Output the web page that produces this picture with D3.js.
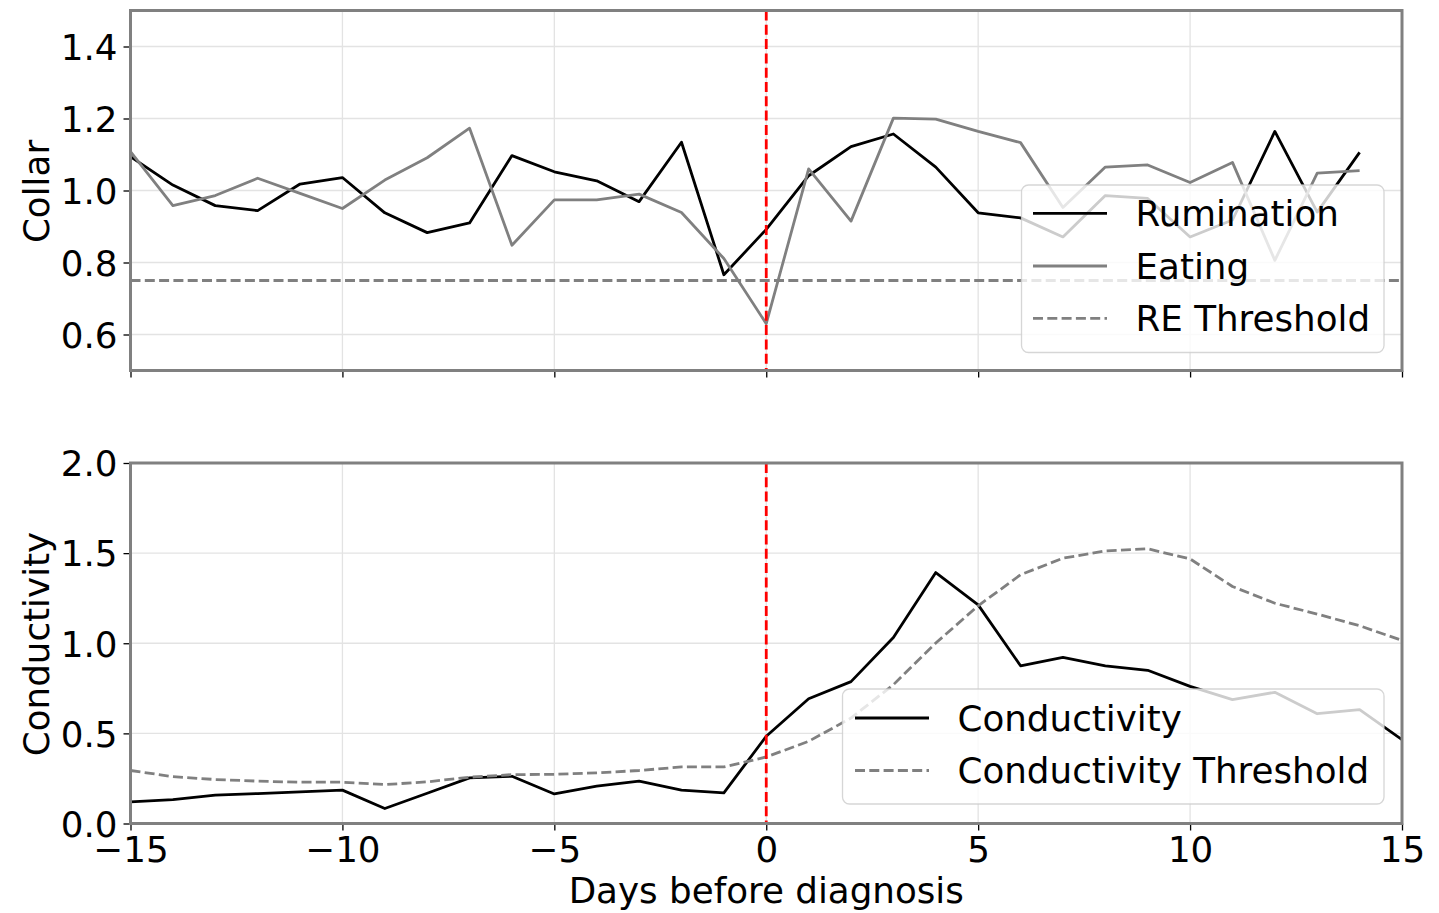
<!DOCTYPE html>
<html>
<head>
<meta charset="utf-8">
<script src="https://cdn.jsdelivr.net/npm/d3@7"></script>
<style>
  html, body { margin: 0; padding: 0; background: #fff; }
  svg { display: block; font-family: "DejaVu Sans", sans-serif; }
</style>
</head>
<body>
<svg id="chart" width="1439" height="913"></svg>
<script>
// Days relative to diagnosis
const collarDays = [-15,-14,-13,-12,-11,-10,-9,-8,-7,-6,-5,-4,-3,-2,-1,0,1,2,3,4,5,6,7,8,9,10,11,12,13,14];
const rumination = [1.094,1.015,0.958,0.944,1.018,1.036,0.938,0.883,0.910,1.097,1.052,1.027,0.969,1.134,0.766,0.892,1.041,1.122,1.157,1.065,0.938,0.924,0.871,0.986,0.978,0.871,0.918,1.164,0.940,1.106];
const eating = [1.108,0.958,0.986,1.034,0.992,0.950,1.029,1.091,1.173,0.848,0.974,0.974,0.990,0.939,0.811,0.630,1.060,0.915,1.201,1.198,1.164,1.133,0.953,1.065,1.071,1.022,1.078,0.806,1.048,1.055];
const reThreshold = 0.75;

const condDays = [-15,-14,-13,-12,-11,-10,-9,-8,-7,-6,-5,-4,-3,-2,-1,0,1,2,3,4,5,6,7,8,9,10,11,12,13,14,15];
const conductivity = [0.120,0.133,0.157,0.166,0.175,0.185,0.083,0.168,0.253,0.262,0.164,0.207,0.235,0.185,0.170,0.484,0.692,0.787,1.032,1.392,1.213,0.875,0.921,0.875,0.850,0.761,0.687,0.728,0.609,0.632,0.465];
const condThreshold = [0.294,0.260,0.244,0.235,0.229,0.229,0.216,0.231,0.257,0.271,0.273,0.281,0.294,0.314,0.314,0.369,0.456,0.585,0.770,1.001,1.208,1.380,1.472,1.512,1.524,1.468,1.315,1.222,1.162,1.097,1.016];

const xTicks = [-15,-10,-5,0,5,10,15];
const collarTicks = [0.6,0.8,1.0,1.2,1.4];
const condTicks = [0.0,0.5,1.0,1.5,2.0];

const FS = 35.7;
const LW = 2.8;
const GRAY = "#808080";

const svg = d3.select("#chart");

const x = d3.scaleLinear().domain([-15, 15]).range([130.5, 1402]);

const panels = [
  {
    id: "collar",
    y: d3.scaleLinear().domain([0.5, 1.5]).range([370.5, 10.5]),
    ticks: collarTicks, label: "Collar", labelY: 191.5, showX: false,
    series: [
      {name: "Rumination", days: collarDays, values: rumination, color: "#000", dash: null},
      {name: "Eating", days: collarDays, values: eating, color: GRAY, dash: null},
      {name: "RE Threshold", days: [-15, 15], values: [reThreshold, reThreshold], color: GRAY, dash: "10,4.3"}
    ],
    legend: {x0: 1021.5, x1: 1384, y0: 185, y1: 352.5, rows: [213.3, 266, 318.3], hx0: 1033, hx1: 1107, tx: 1135.5}
  },
  {
    id: "cond",
    y: d3.scaleLinear().domain([0, 2]).range([823.5, 463]),
    ticks: condTicks, label: "Conductivity", labelY: 644, showX: true,
    series: [
      {name: "Conductivity", days: condDays, values: conductivity, color: "#000", dash: null},
      {name: "Conductivity Threshold", days: condDays, values: condThreshold, color: GRAY, dash: "10,4.3"}
    ],
    legend: {x0: 842.5, x1: 1384, y0: 689, y1: 804, rows: [718, 770.5], hx0: 855, hx1: 929, tx: 957.5}
  }
];

panels.forEach(p => {
  const g = svg.append("g").attr("class", p.id);
  const [yb, yt] = p.y.range();
  const [xl, xr] = x.range();

  const clipId = "clip-" + p.id;
  svg.append("defs").append("clipPath").attr("id", clipId)
    .append("rect").attr("x", xl).attr("y", yt).attr("width", xr - xl).attr("height", yb - yt);

  // grid
  const grid = g.append("g").attr("class", "grid");
  grid.selectAll("line.gx").data(xTicks).join("line")
    .attr("x1", d => x(d)).attr("x2", d => x(d)).attr("y1", yt).attr("y2", yb)
    .attr("stroke", "#e3e3e3").attr("stroke-width", 1.3);
  grid.selectAll("line.gy").data(p.ticks).join("line")
    .attr("x1", xl).attr("x2", xr).attr("y1", d => p.y(d)).attr("y2", d => p.y(d))
    .attr("stroke", "#e3e3e3").attr("stroke-width", 1.3);

  // series
  const plot = g.append("g").attr("clip-path", `url(#${clipId})`);
  p.series.forEach(s => {
    const pts = s.days.map((d, i) => [d, s.values[i]]);
    plot.append("path")
      .datum(pts)
      .attr("fill", "none")
      .attr("stroke", s.color)
      .attr("stroke-width", LW)
      .attr("stroke-linejoin", "round")
      .attr("stroke-dasharray", s.dash)
      .attr("d", d3.line().x(d => x(d[0])).y(d => p.y(d[1])));
  });

  // diagnosis day marker
  plot.append("line")
    .attr("x1", x(0)).attr("x2", x(0)).attr("y1", yt).attr("y2", yb)
    .attr("stroke", "#ff0000").attr("stroke-width", LW).attr("stroke-dasharray", "10,4.3");

  // axes
  const yAxis = g.append("g").attr("transform", `translate(${xl},0)`)
    .call(d3.axisLeft(p.y).tickValues(p.ticks).tickFormat(d3.format(".1f")).tickSize(7).tickPadding(6));
  yAxis.select(".domain").remove();
  yAxis.selectAll(".tick line").attr("stroke", "#000").attr("stroke-width", 1.3);
  yAxis.selectAll(".tick text").attr("font-size", FS).attr("fill", "#000")
    .attr("font-family", "DejaVu Sans").attr("dy", "0.36em");

  const xAxis = g.append("g").attr("transform", `translate(0,${yb})`)
    .call(d3.axisBottom(x).tickValues(xTicks).tickFormat(p.showX ? d3.format("d") : () => "").tickSize(7).tickPadding(6));
  xAxis.select(".domain").remove();
  xAxis.selectAll(".tick line").attr("stroke", "#000").attr("stroke-width", 1.3);
  xAxis.selectAll(".tick text").attr("font-size", FS).attr("fill", "#000")
    .attr("font-family", "DejaVu Sans").attr("dy", "0.72em");

  // frame
  g.append("rect")
    .attr("x", xl).attr("y", yt).attr("width", xr - xl).attr("height", yb - yt)
    .attr("fill", "none").attr("stroke", GRAY).attr("stroke-width", 3);

  // y label
  g.append("text")
    .attr("transform", `translate(49,${p.labelY}) rotate(-90)`)
    .attr("text-anchor", "middle")
    .attr("font-size", FS)
    .attr("fill", "#000")
    .text(p.label);

  // legend
  const L = p.legend;
  const lg = g.append("g").attr("class", "legend");
  lg.append("rect")
    .attr("x", L.x0).attr("y", L.y0).attr("width", L.x1 - L.x0).attr("height", L.y1 - L.y0)
    .attr("rx", 7).attr("ry", 7)
    .attr("fill", "#fff").attr("fill-opacity", 0.8)
    .attr("stroke", "#cccccc").attr("stroke-opacity", 0.8).attr("stroke-width", 1.3);
  p.series.forEach((s, i) => {
    const ry = L.rows[i];
    lg.append("line")
      .attr("x1", L.hx0).attr("x2", L.hx1).attr("y1", ry).attr("y2", ry)
      .attr("stroke", s.color).attr("stroke-width", LW)
      .attr("stroke-dasharray", s.dash);
    lg.append("text")
      .attr("x", L.tx).attr("y", ry + 12.9)
      .attr("font-size", FS).attr("fill", "#000")
      .text(s.name);
  });
});

svg.append("text")
  .attr("x", x(0)).attr("y", 903)
  .attr("text-anchor", "middle")
  .attr("font-size", FS)
  .attr("fill", "#000")
  .text("Days before diagnosis");
</script>
</body>
</html>
